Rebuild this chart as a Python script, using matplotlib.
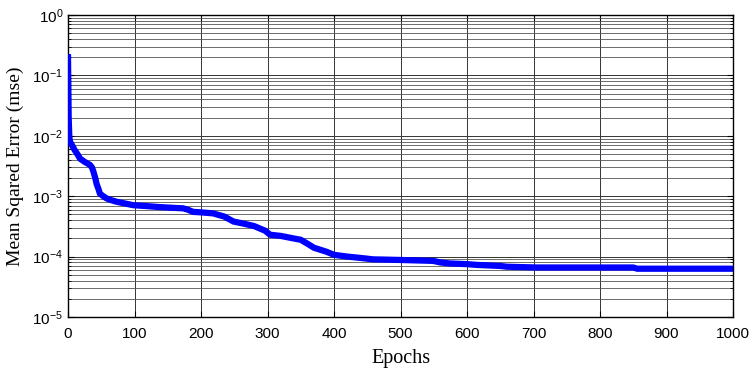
import numpy as np
import matplotlib
matplotlib.use("Agg")
import matplotlib.pyplot as plt
from matplotlib.ticker import LogLocator, MultipleLocator, NullFormatter

plt.rcParams["font.family"] = ["Liberation Sans", "DejaVu Sans"]
plt.rcParams["mathtext.default"] = "regular"

# values (epoch, mse)
epochs = [0, 1, 2, 3, 6, 10, 14, 18, 25, 33, 36, 38, 41, 43, 46, 48, 53, 58, 65, 73,
          85, 98, 115, 138, 160, 173, 180, 188, 200, 218, 235, 249, 265, 280, 289, 296,
          304, 320, 339, 350, 359, 370, 389, 400, 420, 440, 459, 480, 499, 549, 560,
          574, 600, 614, 650, 660, 705, 750, 800, 850, 856, 900, 950, 1000]
mse = [0.2, 0.02, 0.0095, 0.008, 0.007, 0.0058, 0.005, 0.0042, 0.0037, 0.0033,
       0.003, 0.0026, 0.002, 0.0016, 0.0013, 0.0011, 0.001, 0.00092, 0.00086, 0.00081,
       0.00076, 0.00071, 0.00069, 0.00066, 0.00064, 0.00063, 0.0006, 0.00055, 0.00054,
       0.00052, 0.00046, 0.00038, 0.00035, 0.00032, 0.00029, 0.00027,
       0.00023, 0.00022, 0.0002, 0.00019, 0.000166, 0.00014, 0.00012, 0.000107,
       0.0001, 0.000095, 0.00009, 0.000089, 0.000088, 0.000085, 0.00008,
       0.000077, 0.000075, 0.000073, 0.00007, 0.000068, 0.000066, 0.000066, 0.000066,
       0.000066, 0.000063, 0.000063, 0.000063, 0.000063]

fig = plt.figure(figsize=(7.56, 3.71), dpi=100)
ax = fig.add_axes([68 / 756, 1 - 317 / 371, 665 / 756, 302 / 371])

ax.semilogy(epochs, mse, color="#0000ff", lw=4.5, solid_joinstyle="round", zorder=3)

ax.set_xlim(0, 1000)
ax.set_ylim(1e-5, 1)
ax.xaxis.set_major_locator(MultipleLocator(100))
ax.yaxis.set_major_locator(LogLocator(base=10, numticks=10))
ax.yaxis.set_minor_locator(LogLocator(base=10, subs=np.arange(2, 10), numticks=10))
ax.yaxis.set_minor_formatter(NullFormatter())

ax.grid(True, which="major", color="#333333", lw=0.7)
ax.grid(True, which="minor", axis="y", color="#555555", lw=0.6)
ax.tick_params(which="both", direction="in", top=True, right=True, labelsize=11, length=4)
ax.tick_params(axis="x", pad=7)
ax.tick_params(which="minor", length=2.5)
for s in ax.spines.values():
    s.set_linewidth(1.0)

ax.set_xlabel("Epochs", family=["Liberation Serif"], fontsize=14.5, labelpad=6)
ax.set_ylabel("Mean Sqared Error (mse)", family=["Liberation Serif"], fontsize=14, labelpad=6)

fig.savefig("out.png", dpi=100)
